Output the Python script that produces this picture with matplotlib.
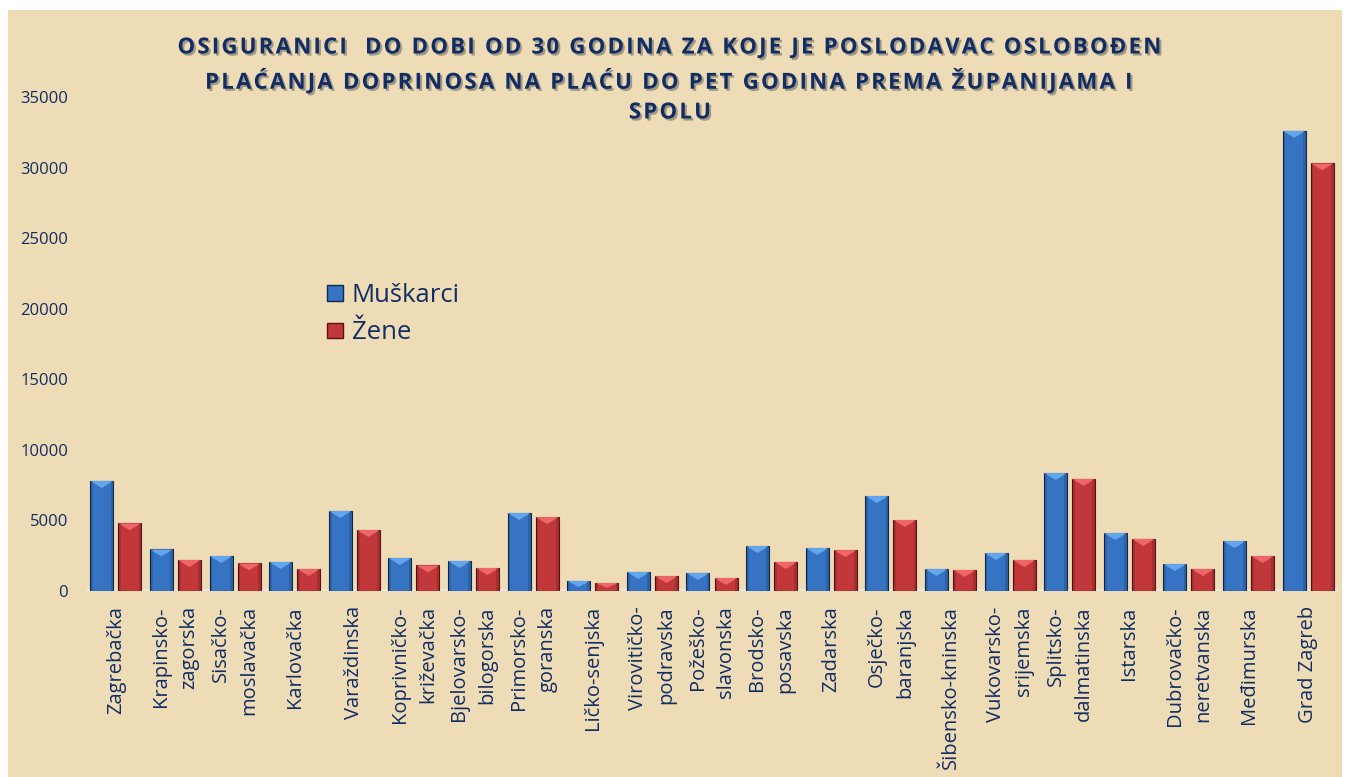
import numpy as np
import matplotlib
matplotlib.use("Agg")
import matplotlib.pyplot as plt
import matplotlib.patheffects as pe
from matplotlib.patches import Patch, Rectangle

# podaci po zupanijama
zupanije = ["Zagrebačka", "Krapinsko-\nzagorska", "Sisačko-\nmoslavačka", "Karlovačka",
            "Varaždinska", "Koprivničko-\nkriževačka", "Bjelovarsko-\nbilogorska",
            "Primorsko-\ngoranska", "Ličko-senjska", "Virovitičko-\npodravska",
            "Požeško-\nslavonska", "Brodsko-\nposavska", "Zadarska", "Osječko-\nbaranjska",
            "Šibensko-kninska", "Vukovarsko-\nsrijemska", "Splitsko-\ndalmatinska",
            "Istarska", "Dubrovačko-\nneretvanska", "Međimurska", "Grad Zagreb"]
muskarci = [7800, 2950, 2480, 2060, 5670, 2340, 2130, 5530, 710, 1350,
            1280, 3190, 3050, 6730, 1560, 2690, 8360, 4110, 1910, 3540, 32600]
zene = [4800, 2200, 1960, 1560, 4320, 1820, 1630, 5240, 570, 1060,
        920, 2060, 2900, 5030, 1490, 2200, 7940, 3690, 1560, 2480, 30300]

navy = "#112d64"
plava = "#3673c2"
crvena = "#c2373a"
plt.rcParams['font.family'] = ['Open Sans', 'DejaVu Sans']

fig = plt.figure(figsize=(13.5, 7.77), dpi=100, facecolor="white")
# pozadina (pergament)
fig.patches.append(Rectangle((8 / 1350, 0), 1 - 16 / 1350, 1 - 10 / 777, transform=fig.transFigure,
                             facecolor="#eedcb6", edgecolor="none", zorder=-10))

ax = fig.add_axes([86 / 1350, 1 - 591 / 777, 1252 / 1350, (591 - 97) / 777])
ax.set_facecolor("none")

x = np.arange(len(zupanije))
sirina = 0.386
pom = 0.235
b1 = ax.bar(x - pom, muskarci, sirina, color=plava, edgecolor="#10284f", linewidth=0.8, zorder=3)
b2 = ax.bar(x + pom, zene, sirina, color=crvena, edgecolor="#5a1214", linewidth=0.8, zorder=3)

ax.set_ylim(0, 35000)
ax.set_xlim(-0.5, len(zupanije) - 0.5)

# "bevel" trokut na vrhu stupca + tamniji rubovi
dubina = 7 * 35000 / 494
for bars, svijetla in ((b1, "#62a6ee"), (b2, "#f06668")):
    for b in bars:
        x0, w, h = b.get_x(), b.get_width(), b.get_height()
        d = min(dubina, h * 0.6)
        ax.fill([x0, x0 + w, x0 + w / 2], [h, h, h - d], color=svijetla, zorder=4, lw=0)
        ax.fill([x0, x0 + w * 0.12, x0 + w * 0.12, x0], [0, 0, h, h], color="black", alpha=0.12, zorder=4, lw=0)
        ax.fill([x0 + w * 0.88, x0 + w, x0 + w, x0 + w * 0.88], [0, 0, h, h], color="black", alpha=0.15, zorder=4, lw=0)

for s in ax.spines.values():
    s.set_visible(False)
ax.axhline(0, color="#ece8e0", lw=3.5, zorder=2)

ax.set_yticks(range(0, 35001, 5000))
ax.tick_params(axis="y", length=0, pad=13, labelsize=12, labelcolor=navy)
ax.set_xticks(x)
ax.set_xticklabels(zupanije, rotation=90, ha="center", va="top", ma="right",
                   fontsize=14.5, color=navy, linespacing=1.55)
ax.tick_params(axis="x", length=0, pad=11)

# naslov - svaki red posebno, s razmakom izmedu slova (hair space)
redovi = ["OSIGURANICI  DO DOBI OD 30 GODINA ZA KOJE JE POSLODAVAC OSLOBOĐEN",
          "PLAĆANJA DOPRINOSA NA PLAĆU DO PET GODINA PREMA ŽUPANIJAMA I",
          "SPOLU"]
for red, y_px in zip(redovi, [48, 81, 113]):
    fig.text(670 / 1350, 1 - y_px / 777, "\u200a".join(red), ha="center", va="center",
             fontsize=16, fontweight="bold", color=navy,
             path_effects=[pe.withSimplePatchShadow(offset=(1.5, -1.5), shadow_rgbFace="#555555", alpha=0.5)])

rucke = [Patch(facecolor=plava, edgecolor="#10284f", label="Muškarci"),
         Patch(facecolor=crvena, edgecolor="#5a1214", label="Žene")]
leg = fig.legend(handles=rucke, loc="upper left", bbox_to_anchor=(327 / 1350, 1 - 283 / 777),
                 frameon=False, fontsize=18.5, handlelength=0.62, handleheight=0.55,
                 handletextpad=0.35, labelspacing=0.48, labelcolor=navy,
                 borderpad=0, borderaxespad=0)

fig.savefig("out.png", dpi=100, facecolor="white")
